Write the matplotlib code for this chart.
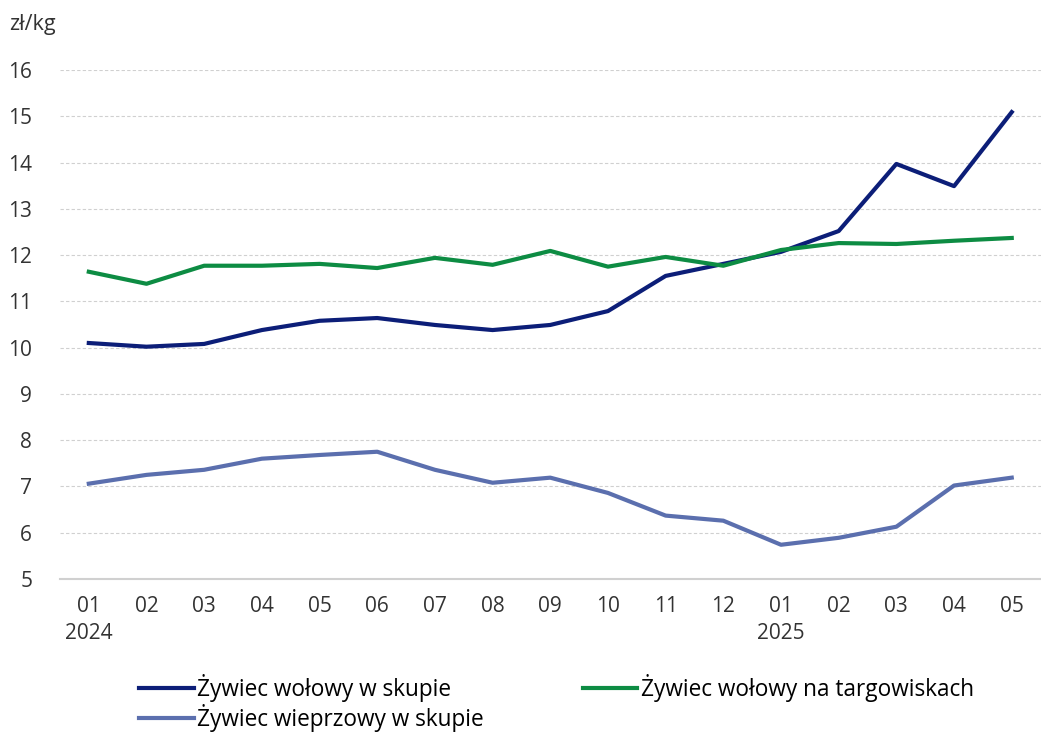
import matplotlib.pyplot as plt

# months Jan 2024 - May 2025
months = ["01", "02", "03", "04", "05", "06", "07", "08", "09", "10", "11", "12",
          "01", "02", "03", "04", "05"]
years = {0: "2024", 12: "2025"}

wolowy_skup = [10.10, 10.02, 10.08, 10.38, 10.58, 10.64, 10.49, 10.38, 10.49, 10.79,
               11.55, 11.81, 12.07, 12.52, 13.97, 13.49, 15.09]
wolowy_targ = [11.64, 11.38, 11.77, 11.77, 11.81, 11.72, 11.94, 11.79, 12.09, 11.75,
               11.96, 11.77, 12.11, 12.26, 12.24, 12.31, 12.37]
wieprzowy_skup = [7.06, 7.25, 7.36, 7.60, 7.68, 7.75, 7.36, 7.08, 7.19, 6.86,
                  6.37, 6.26, 5.74, 5.89, 6.13, 7.02, 7.19]

plt.rcParams['font.family'] = ['Open Sans', 'DejaVu Sans']

fig = plt.figure(figsize=(10.41, 7.33), dpi=100)
ax = fig.add_axes([0.0576, 0.2101, 0.942, 0.6944])

x = list(range(len(months)))
ax.plot(x, wolowy_skup, color='#0c1e78', lw=3, label='Żywiec wołowy w skupie', zorder=3)
ax.plot(x, wieprzowy_skup, color='#5b6fae', lw=3, label='Żywiec wieprzowy w skupie', zorder=3)
ax.plot(x, wolowy_targ, color='#0d8c43', lw=3, label='Żywiec wołowy na targowiskach', zorder=3)

ax.set_xlim(-0.5, len(months) - 0.5)
ax.set_ylim(5, 16)
ax.set_yticks(range(5, 17))
ax.set_xticks(x)
ax.set_xticklabels([m + ("\n" + years[i] if i in years else "") for i, m in enumerate(months)])
ax.tick_params(length=0, labelsize=15, colors='#333333', pad=12)
ax.tick_params(axis='y', pad=20)
for lab in ax.get_xticklabels():
    lab.set_verticalalignment('top')
    lab.set_linespacing(1.4)

ax.grid(axis='y', color='#d0d0d0', linestyle=(0, (3, 2)), lw=0.8)
for s in ['top', 'right', 'left']:
    ax.spines[s].set_visible(False)
ax.spines['bottom'].set_color('#d0d0d0')
ax.spines['bottom'].set_linewidth(1.5)

fig.text(0.009, 0.966, 'zł/kg', fontsize=15.5, color='#333333', va='center', ha='left')

fig.legend(loc='upper left', bbox_to_anchor=(0.125, 0.093), ncol=2, frameon=False,
           handlelength=2.4, handletextpad=0.15, columnspacing=4.4,
           labelspacing=0.1, borderaxespad=0, prop={'size': 16.3})

fig.savefig('out.png', dpi=100)
